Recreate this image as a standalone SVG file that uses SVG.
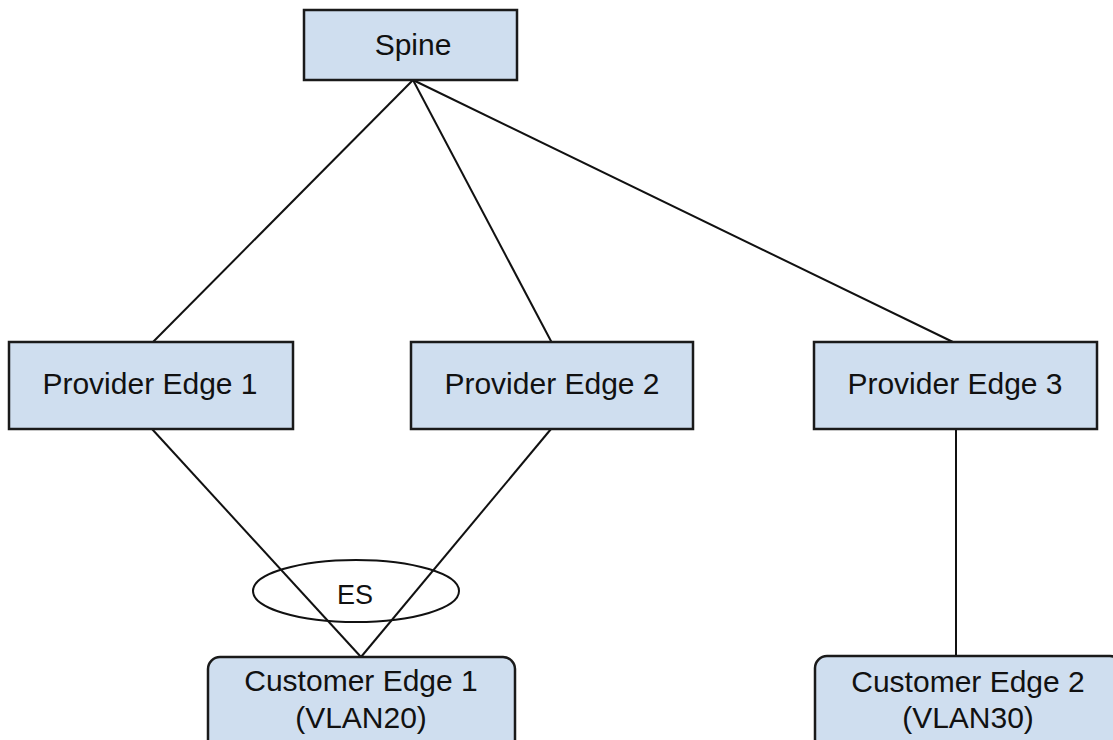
<svg xmlns="http://www.w3.org/2000/svg" width="1113" height="740" viewBox="0 0 1113 740">
<style>
.box{fill:#cfdeef;stroke:#1a1a1a;stroke-width:2.5}
.lbl{font-family:"Liberation Sans",Arial,sans-serif;font-size:30px;fill:#111;text-anchor:middle}
.es{font-family:"Liberation Sans",Arial,sans-serif;font-size:27px;fill:#111;text-anchor:middle}
.ln{stroke:#111;stroke-width:2;fill:none}
</style>
<rect width="1113" height="740" fill="#fff"/>
<g id="connectors">
<line class="ln" x1="413" y1="80" x2="152" y2="343"/>
<line class="ln" x1="413" y1="80" x2="552" y2="343"/>
<line class="ln" x1="413" y1="80" x2="955" y2="343"/>
<line class="ln" x1="152" y1="429" x2="361" y2="657"/>
<line class="ln" x1="551" y1="429" x2="361" y2="657"/>
<line class="ln" x1="956" y1="429" x2="956" y2="656"/>
</g>
<g id="es">
<ellipse class="ln" cx="356" cy="591" rx="103" ry="31"/>
<text class="es" x="355" y="604">ES</text>
</g>
<g id="spine">
<rect class="box" x="304" y="10" width="213" height="70"/>
<text class="lbl" x="413" y="55">Spine</text>
</g>
<g id="pe1">
<rect class="box" x="9" y="342" width="284" height="87"/>
<text class="lbl" x="150" y="394">Provider Edge 1</text>
</g>
<g id="pe2">
<rect class="box" x="411" y="342" width="282" height="87"/>
<text class="lbl" x="552" y="394">Provider Edge 2</text>
</g>
<g id="pe3">
<rect class="box" x="814" y="342" width="283" height="87"/>
<text class="lbl" x="955" y="394">Provider Edge 3</text>
</g>
<g id="ce1">
<rect class="box" x="208" y="657" width="307" height="95" rx="12"/>
<text class="lbl" x="361" y="691">Customer Edge 1</text>
<text class="lbl" x="361" y="728">(VLAN20)</text>
</g>
<g id="ce2">
<rect class="box" x="815" y="656" width="307" height="95" rx="12"/>
<text class="lbl" x="968" y="692">Customer Edge 2</text>
<text class="lbl" x="968" y="728">(VLAN30)</text>
</g>
</svg>
